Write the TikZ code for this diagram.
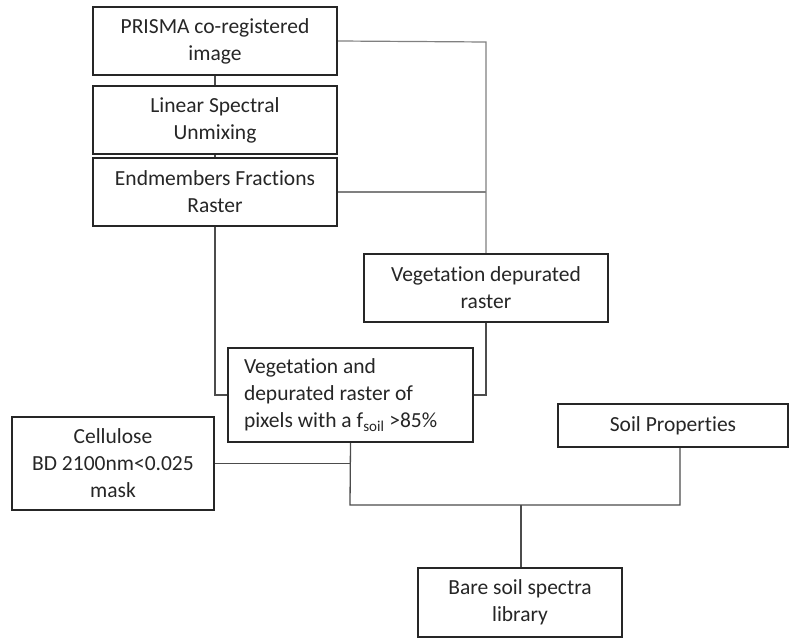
\documentclass[tikz,border=0pt]{standalone}
\usepackage{fontspec}
\setmainfont[Ligatures={NoCommon}]{Carlito}
\begin{document}
\begin{tikzpicture}[x=1pt,y=-1pt,
  box/.style={draw=black!85, line width=2pt, fill=white, inner sep=0pt, align=center,
    font=\fontsize{21.5}{27}\selectfont, text=black!85},
  conn/.style={draw=black!70, line width=1.3pt},
  lconn/.style={draw=black!50, line width=1.2pt}]
\useasboundingbox (0,0) rectangle (790,639);
\node[box, minimum width=244pt, minimum height=68pt] (prisma) at (215,41) {PRISMA co-registered\\image};
\node[box, minimum width=244pt, minimum height=68pt] (lsu) at (215,120) {Linear Spectral\\Unmixing};
\node[box, minimum width=244pt, minimum height=68pt] (efr) at (215,192) {Endmembers Fractions\\Raster};
\node[box, minimum width=244pt, minimum height=68pt] (vdr) at (486,288) {Vegetation depurated\\raster};
\node[box, minimum width=245pt, minimum height=94pt, text width=213pt, align=flush left] (vand) at (350.5,395) {Vegetation and\\depurated raster of\\pixels with a f\textsubscript{soil} >85\%};
\node[box, minimum width=202pt, minimum height=93pt] (cell) at (113,463.5) {Cellulose\\BD 2100nm<0.025\\mask};
\node[box, minimum width=230pt, minimum height=43pt] (soil) at (673,425.5) {Soil Properties};
\node[box, minimum width=204pt, minimum height=69pt] (bare) at (520,602.5) {Bare soil spectra\\library};
\coordinate (j1) at (486,42);
\coordinate (j2) at (486,192);
\coordinate (j3) at (350,505);
\coordinate (j4) at (680,505);
\coordinate (j5) at (521,505);
\draw[conn] (prisma.south) -- (lsu.north);
\draw[conn] (lsu.south) -- (efr.north);
\draw[lconn] (prisma.east) -- (j1) -- (vdr.north);
\draw[lconn] (efr.east) -- (j2);
\draw[conn] (efr.south) |- (vand.west);
\draw[conn] (vdr.south) |- (vand.east);
\draw[conn] (cell.east) -- (cell.east -| vand.south);
\draw[conn] (vand.south) -- (j3) -- (j4) -- (soil.south -| j4);
\draw[conn] (j5) -- (bare.north -| j5);
\end{tikzpicture}
\end{document}
